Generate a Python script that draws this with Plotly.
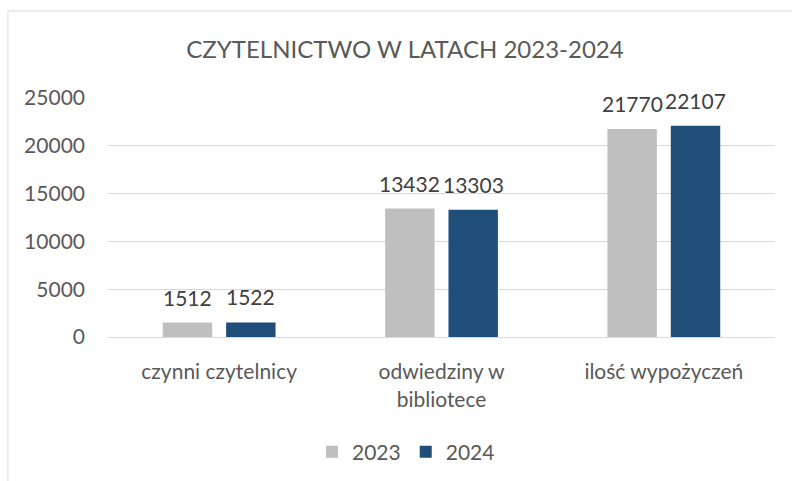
import plotly.graph_objects as go

categories = ["czynni czytelnicy", "odwiedziny w<br>bibliotece", "ilość wypożyczeń"]
series_names = ["2023", "2024"]
values_2023 = [1512, 13432, 21770]
values_2024 = [1522, 13303, 22107]
colors = ["#BFBFBF", "#1F4E79"]
y_ticks = [0, 5000, 10000, 15000, 20000, 25000]

FONT = "Lato, 'Open Sans', sans-serif"
TEXT = "#595959"

fig = go.Figure()
for name, vals, col in zip(series_names, [values_2023, values_2024], colors):
    fig.add_trace(go.Bar(
        name=name, x=categories, y=vals, marker=dict(color=col, line=dict(width=0)),
        hoverinfo="x+y",
    ))

# value labels above each bar
bar_shift = 31.75
for vals, shift in zip([values_2023, values_2024], [-bar_shift, bar_shift]):
    for c, v in zip(categories, vals):
        fig.add_annotation(
            x=c, y=v, xshift=shift, yshift=11, text=str(v), showarrow=False,
            yanchor="bottom", xanchor="center",
            font=dict(family=FONT, size=21, color="#404040"),
        )

# outer chart border
fig.add_shape(type="rect", xref="paper", yref="paper",
              x0=-0.15, x1=1.3, y0=-1.0, y1=1.364,
              line=dict(color="#D9D9D9", width=1), fillcolor="rgba(0,0,0,0)", layer="below")

fig.update_layout(
    width=792, height=481,
    margin=dict(l=108, r=17, t=98, b=144),
    paper_bgcolor="white", plot_bgcolor="white",
    barmode="group", bargap=0.43, bargroupgap=0.22,
    title=dict(text="CZYTELNICTWO W LATACH 2023-2024", x=405 / 792, xanchor="center",
               xref="container", y=1 - 50 / 481, yanchor="middle", yref="container",
               font=dict(family=FONT, size=24, color=TEXT)),
    font=dict(family=FONT, color=TEXT),
    legend=dict(orientation="h", xref="container", x=406 / 792, xanchor="center",
                yref="container", y=1 - 452 / 481, yanchor="middle",
                font=dict(family=FONT, size=21, color=TEXT),
                itemwidth=30, tracegroupgap=0),
    showlegend=True,
)
fig.update_xaxes(showgrid=False, showline=True, linecolor="#D9D9D9", linewidth=1,
                 ticks="", tickfont=dict(family=FONT, size=21, color=TEXT),
                 ticklabelstandoff=16, fixedrange=True)
fig.update_yaxes(range=[0, 25000], tickvals=y_ticks, ticktext=[str(t) for t in y_ticks],
                 showgrid=True, gridcolor="#D9D9D9",
                 gridwidth=1, zeroline=False, showline=False, ticks="",
                 tickfont=dict(family=FONT, size=21, color=TEXT),
                 ticklabelstandoff=22, fixedrange=True)

fig.write_html("out.html")
